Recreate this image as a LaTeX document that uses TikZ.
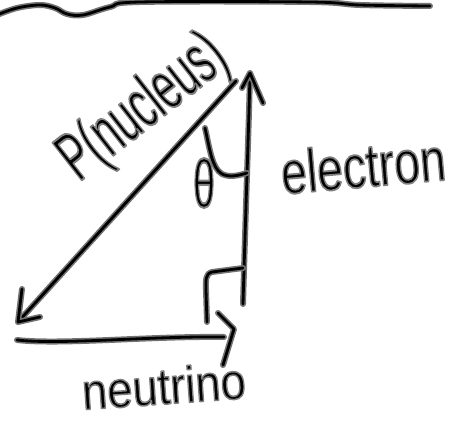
\documentclass[tikz,border=0pt]{standalone}
\usepackage{fontspec}
\usepackage{graphicx}
\newfontfamily\hand{Liberation Sans}
\newcommand{\halo}{\special{pdf:literal direct 0.5 G 0.3 w 1 j 2 Tr}}
\newcommand{\nohalo}{\special{pdf:literal direct 0 Tr}}
\tikzset{
  ink/.style={draw=black!55, double=black, double distance=2.8pt, line width=1.6pt,
    line cap=round, line join=round},
  handtext/.style={anchor=base, inner sep=0pt, text=black, font=\hand},
}
\begin{document}
\begin{tikzpicture}[x=1pt, y=-1pt]
  \useasboundingbox (0,0) rectangle (461,428);
  % horizon line
  \draw[ink] plot[smooth, tension=0.6] coordinates {(-3,15) (17,8) (40,5) (55,8) (67,14) (83,15) (110,7) (140,2) (310,2) (360,5) (430,6)};
  % corner points
  \coordinate (top) at (250,73);
  \coordinate (eb) at (243,304);
  \coordinate (nl) at (18,322);
  \coordinate (ns) at (17,340);
  \coordinate (ne) at (224,337);
  % electron arrow
  \draw[ink] (eb) .. controls (246,200) and (249,120) .. (top);
  \draw[ink] (242,88) -- (top) -- (263,103);
  % nucleus arrow
  \draw[ink] (236,81) -- (nl);
  \draw[ink] (22,289) -- (nl) -- (40,317);
  % neutrino arrow
  \draw[ink] (ns) .. controls (60,345) and (150,336) .. (ne);
  \draw[ink] (218,313) -- (234,329) -- (223,365);
  % right angle marker
  \draw[ink] (243,268) -- (212,272) .. controls (205,274) and (206,280) .. (206,290) -- (207,322);
  % angle arc
  \draw[ink] (205,128) .. controls (210,150) and (212,168) .. (222,174) .. controls (230,178) and (240,175) .. (247,173);
  % labels
  \node[handtext, rotate=38] (nuc) at (155,123) {\halo\resizebox{193pt}{50pt}{P(nucleus)}\nohalo};
  \node[handtext, rotate=5] (el) at (365,187) {\halo\resizebox{165pt}{44pt}{electron}\nohalo};
  \node[handtext, rotate=4] (nu) at (165,404) {\halo\resizebox{164pt}{37pt}{neutrino}\nohalo};
  \node[inner sep=0pt, font=\hand] (theta) at (204,183) {\halo\resizebox*{22pt}{50pt}{θ}\nohalo};
\end{tikzpicture}
\end{document}
